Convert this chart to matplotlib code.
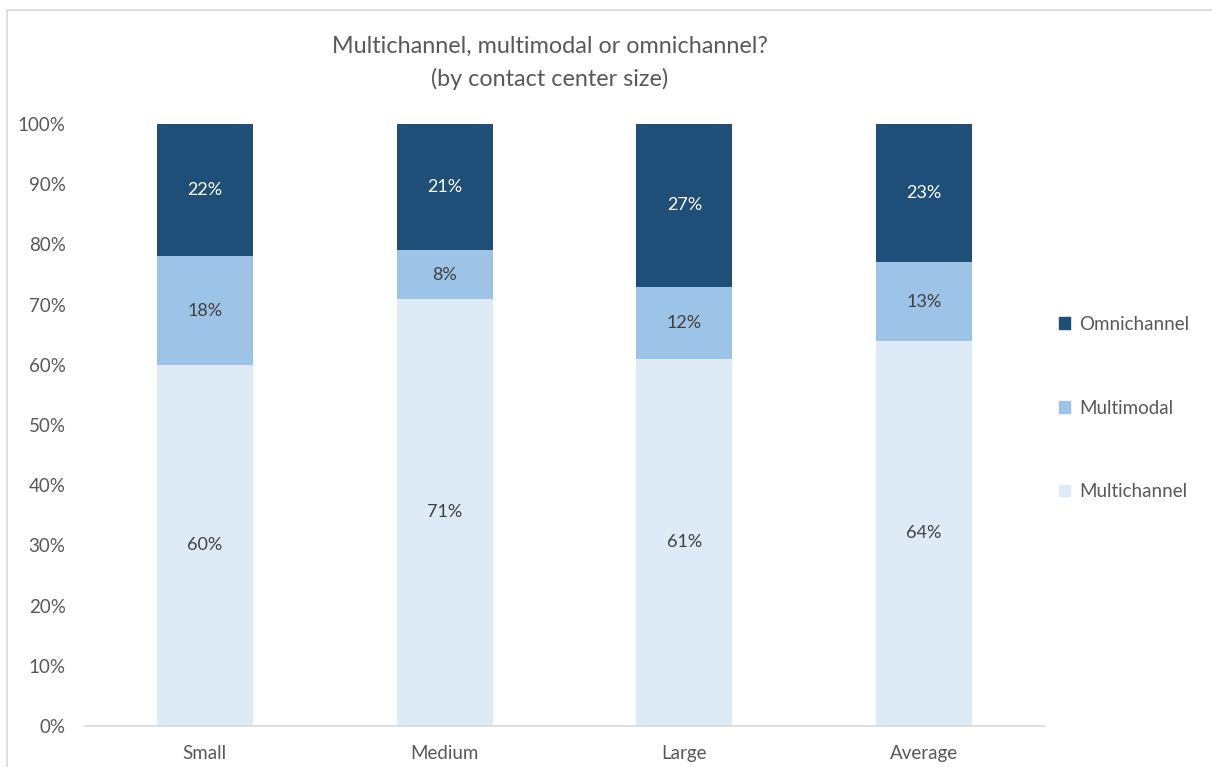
import numpy as np
import matplotlib.pyplot as plt
from matplotlib.patches import Patch, Rectangle

plt.rcParams['font.family'] = ['Lato', 'DejaVu Sans']

# Share of each approach by contact center size (%)
sizes = ['Small', 'Medium', 'Large', 'Average']
multichannel = [60, 71, 61, 64]
multimodal = [18, 8, 12, 13]
omnichannel = [22, 21, 27, 23]

series = [('Multichannel', multichannel, '#DEEBF7', '#404040'),
          ('Multimodal', multimodal, '#9DC3E6', '#404040'),
          ('Omnichannel', omnichannel, '#1F4E79', 'white')]

fig = plt.figure(figsize=(12.12, 7.67), dpi=100)
ax = fig.add_axes([0.0701, 0.0535, 0.7913, 0.7848])

x = np.arange(len(sizes))
bottom = np.zeros(len(sizes))
for name, vals, color, tcolor in series:
    vals = np.array(vals, dtype=float)
    ax.bar(x, vals, 0.4, bottom=bottom, color=color, label=name)
    for xi, b, v in zip(x, bottom, vals):
        ax.text(xi, b + v / 2, f'{v:.0f}%', ha='center', va='center',
                fontsize=13, color=tcolor)
    bottom += vals

ax.set_xlim(-0.5, 3.5)
ax.set_ylim(0, 100)
ax.set_yticks(np.arange(0, 101, 10))
ax.set_yticklabels([f'{t}%' for t in range(0, 101, 10)])
ax.set_xticks(x)
ax.set_xticklabels(sizes)
ax.tick_params(axis='both', length=0, labelsize=13.5, labelcolor='#595959')
ax.tick_params(axis='y', pad=14)
ax.tick_params(axis='x', pad=14)
for s in ['top', 'right', 'left']:
    ax.spines[s].set_visible(False)
ax.spines['bottom'].set_color('#D9D9D9')
ax.spines['bottom'].set_linewidth(1.2)

fig.text(0.4538, 0.918, 'Multichannel, multimodal or omnichannel?\n(by contact center size)',
         ha='center', va='center', fontsize=16.8, color='#595959', linespacing=1.6)

# legend, top entry first
handles = [Patch(color=c, label=n) for n, _, c, _ in reversed(series)]
fig.legend(handles=handles, loc='center left', bbox_to_anchor=(0.860, 0.468),
           frameon=False, fontsize=13.5, labelcolor='#595959',
           handlelength=0.6, handleheight=0.6, handletextpad=0.45,
           labelspacing=3.55)

# chart border (only top and left edges fall inside the image)
fig.add_artist(Rectangle((7 / 1212, -0.1), 1.2, 1 - 10 / 767 + 0.1,
                         transform=fig.transFigure, fill=False,
                         edgecolor='#D9D9D9', linewidth=1.2))

fig.savefig('out.png', dpi=100)
